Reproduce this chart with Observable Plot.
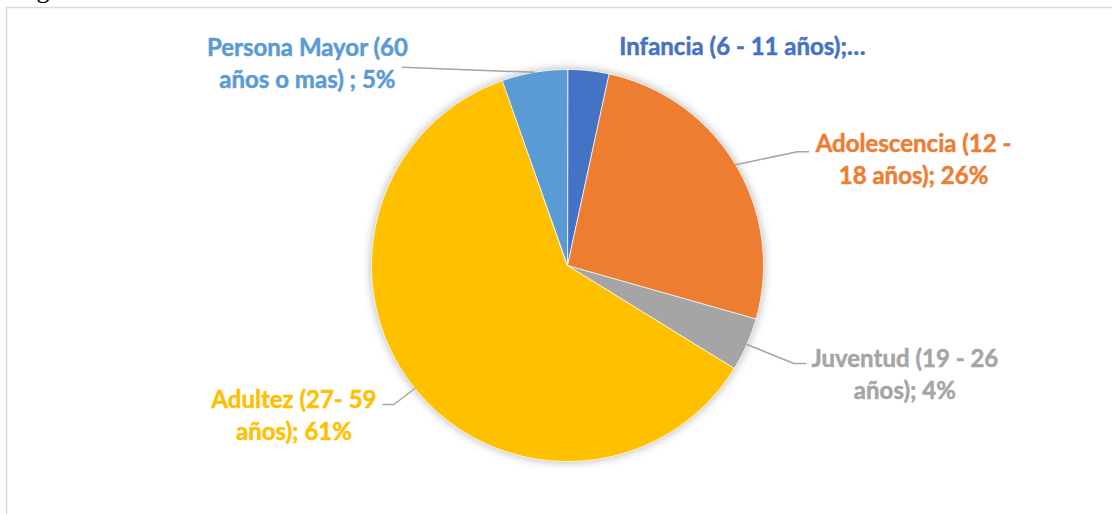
<!DOCTYPE html>
<html><head><meta charset="utf-8">
<script src="https://cdn.jsdelivr.net/npm/d3@7"></script>
<script src="https://cdn.jsdelivr.net/npm/@observablehq/plot@0.6"></script>
<style>html,body{margin:0;padding:0;background:#fff;overflow:hidden}</style>
</head><body><div id="chart"></div>
<script>
// ---- data ----
const categories = ["Infancia (6 - 11 años)", "Adolescencia (12 - 18 años)", "Juventud (19 - 26 años)", "Adultez (27- 59 años)", "Persona Mayor (60 años o mas)"];
const values = [3.4, 26.0, 4.4, 60.8, 5.4];
const labels = ["Infancia (6 - 11 años);…", "Adolescencia (12 -\n18 años); 26%", "Juventud (19 - 26\naños); 4%", "Adultez (27- 59\naños); 61%", "Persona Mayor (60\naños o mas) ; 5%"];
const colors = ["#4472C4", "#ED7D31", "#A5A5A5", "#FFC000", "#5B9BD5"];

// ---- layout ----
const W = 1112, H = 514, CX = 567, CY = 265, R = 196;
const FS = 24, LINE_PX = 32;
// pixel offsets (from slice mid-angle edge point) to label's first baseline centre
const labelOffset = [[154, -21], [178, -18], [158, 17], [-121, 14], [-227, -22]];
// leader line bends, pixel offsets from the same edge point
const leaderBends = [[], [[62, -13], [73, -13]], [[47, 19], [59, 19]], [[-21, 16], [-32, 16]], [[-132, -5]]];

const total = d3.sum(values);
let acc = 0;
const slices = values.map((v, i) => {
  const a0 = acc / total * 2 * Math.PI; acc += v;
  const a1 = acc / total * 2 * Math.PI;
  return {i, name: categories[i], a0, a1, mid: (a0 + a1) / 2};
});

const piePts = [];
for (const s of slices) {
  piePts.push({name: s.name, x: 0, y: 0});
  const n = Math.max(2, Math.ceil((s.a1 - s.a0) / (Math.PI / 360)));
  for (let k = 0; k <= n; k++) {
    const a = s.a0 + (s.a1 - s.a0) * k / n;
    piePts.push({name: s.name, x: Math.sin(a), y: Math.cos(a)});
  }
}

const leaderPts = [];
for (const s of slices) {
  const b = leaderBends[s.i];
  if (!b.length) continue;
  const ex = Math.sin(s.mid), ey = Math.cos(s.mid);
  leaderPts.push({name: s.name, x: ex, y: ey});
  for (const [dx, dy] of b) leaderPts.push({name: s.name, x: ex + dx / R, y: ey - dy / R});
}

const labelData = slices.map(s => ({
  name: s.name, text: labels[s.i],
  x: Math.sin(s.mid) + labelOffset[s.i][0] / R,
  y: Math.cos(s.mid) - labelOffset[s.i][1] / R
}));

const plot = Plot.plot({
  width: W, height: H,
  marginLeft: 0, marginRight: 0, marginTop: 0, marginBottom: 0,
  x: {domain: [-CX / R, (W - CX) / R], axis: null},
  y: {domain: [-(H - CY) / R, CY / R], axis: null},
  color: {domain: categories, range: colors},
  style: {background: "white"},
  marks: [
    Plot.frame({stroke: "#D9D9D9", strokeWidth: 1.5, insetLeft: 6, insetTop: 7, insetRight: -10, insetBottom: -10}),
    Plot.line(piePts, {x: "x", y: "y", z: "name", fill: "name", stroke: "white", strokeWidth: 0.8, curve: "linear-closed"}),
    Plot.line(leaderPts, {x: "x", y: "y", z: "name", stroke: "#A6A6A6", strokeWidth: 1.5}),
    Plot.text(labelData, {x: "x", y: "y", text: "text", fill: "name", stroke: "name", strokeWidth: 0.5, fontFamily: "Lato", fontWeight: "bold", fontSize: FS, lineAnchor: "top", dy: -0.71 * FS, lineHeight: LINE_PX / FS, textAnchor: "middle"}),
    Plot.text(["g"], {frameAnchor: "top-left", dx: 36, dy: -3, lineAnchor: "bottom", fontFamily: "Liberation Serif", fontSize: 26, fill: "black"})
  ]
});
document.getElementById("chart").appendChild(plot);
const pieG = plot.querySelectorAll('g[aria-label="line"]')[0];
if (pieG) pieG.setAttribute("style", "filter: drop-shadow(0px 0px 5px rgba(0,0,0,0.3))");
</script>
</body></html>
